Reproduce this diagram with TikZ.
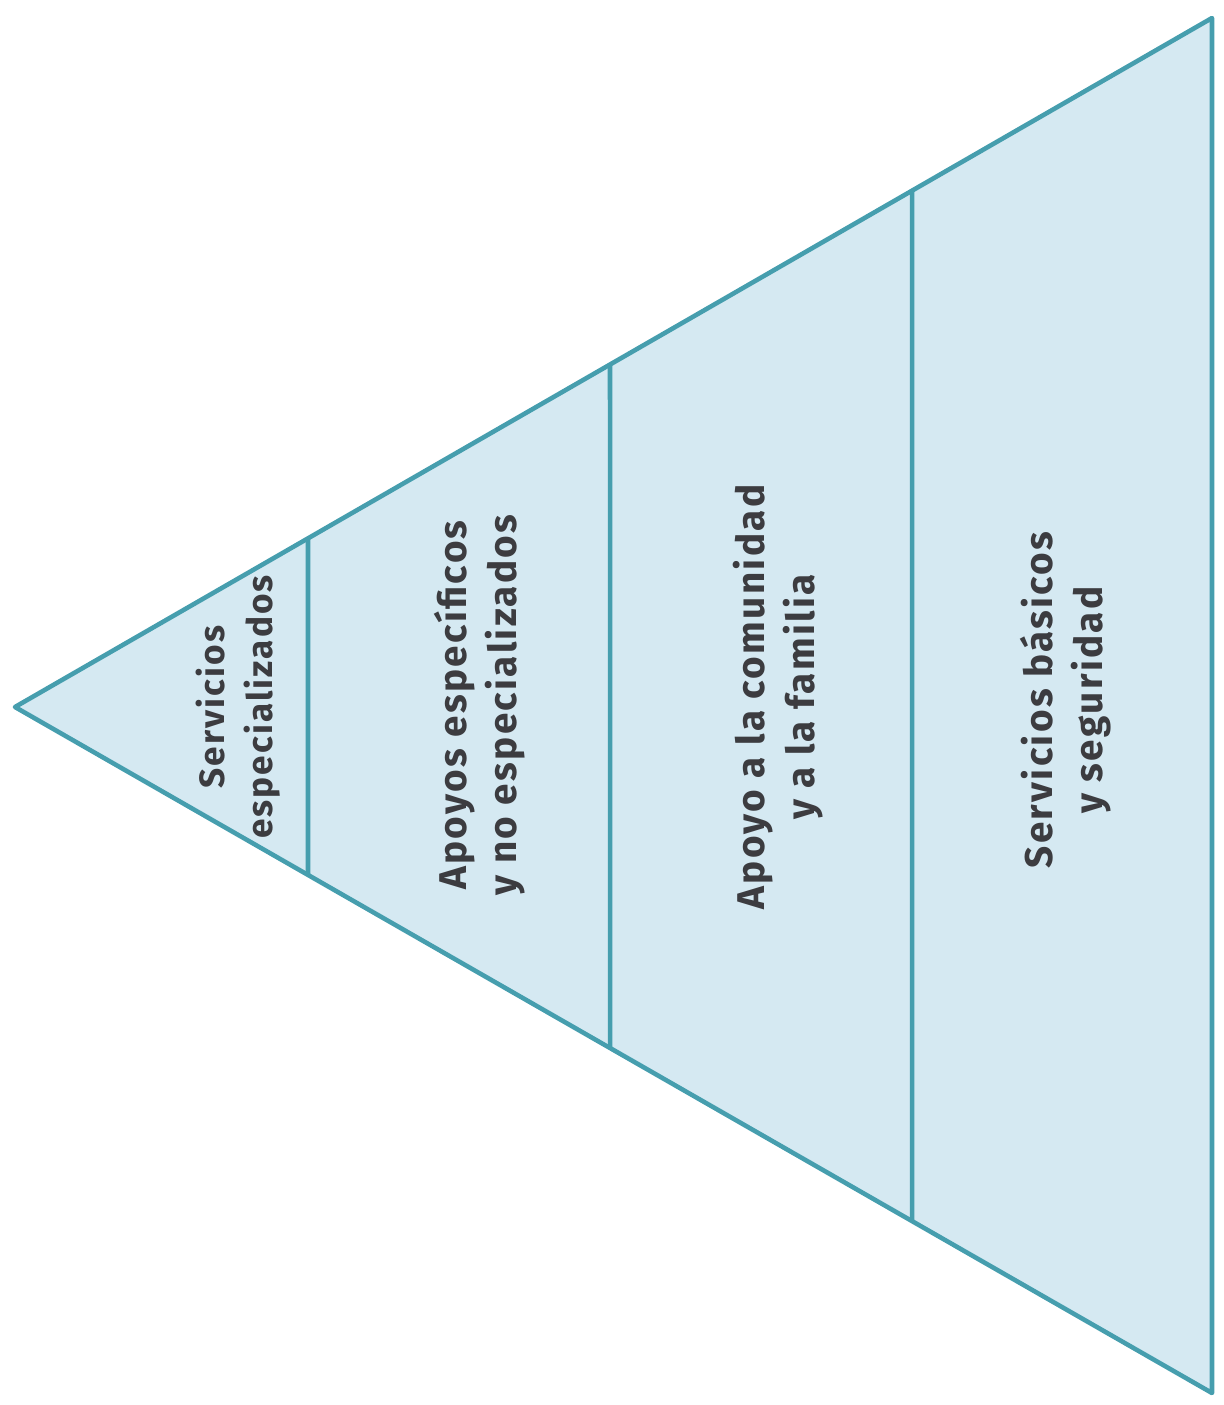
\documentclass[tikz,border=0pt]{standalone}
\usepackage{fontspec}
\setmainfont[LetterSpace=6]{Fira Sans}
\definecolor{edgeteal}{RGB}{70,158,174}
\definecolor{fillblue}{RGB}{213,233,242}
\definecolor{txtgrey}{RGB}{60,60,64}
\begin{document}
\begin{tikzpicture}[x=0.01cm,y=-0.01cm,
		band/.style={draw=edgeteal, line width=1.3pt},
		lbl/.style={rotate=90, align=center, text=txtgrey, font=\fontsize{11}{14.2}\selectfont\bfseries}]
		\useasboundingbox (0,0) rectangle (1224,1405);
		\coordinate (apex) at (15,707);
		\coordinate (tr) at (1212,18);
		\coordinate (br) at (1212,1393);
		\filldraw[band, fill=fillblue, line join=round] (apex) -- (tr) -- (br) -- cycle;
		% dividers
		\foreach \n/\x in {a/308, b/610, c/912} {
			\coordinate (\n top) at (intersection of apex--tr and {\x,0}--{\x,100});
			\coordinate (\n bot) at (intersection of apex--br and {\x,0}--{\x,100});
			\draw[band] (\n top) -- (\n bot);
		}
		\node[lbl, font=\fontsize{10}{13.5}\selectfont\bfseries] (s1) at (238,707) {Servicios\\especializados};
		\node[lbl] (s2) at (480,705) {Apoyos específicos\\y no especializados};
		\node[lbl] (s3) at (778,697) {Apoyo a la comunidad\\y a la familia};
		\node[lbl] (s4) at (1066,700) {Servicios básicos\\y seguridad};
	\end{tikzpicture}
\end{document}
